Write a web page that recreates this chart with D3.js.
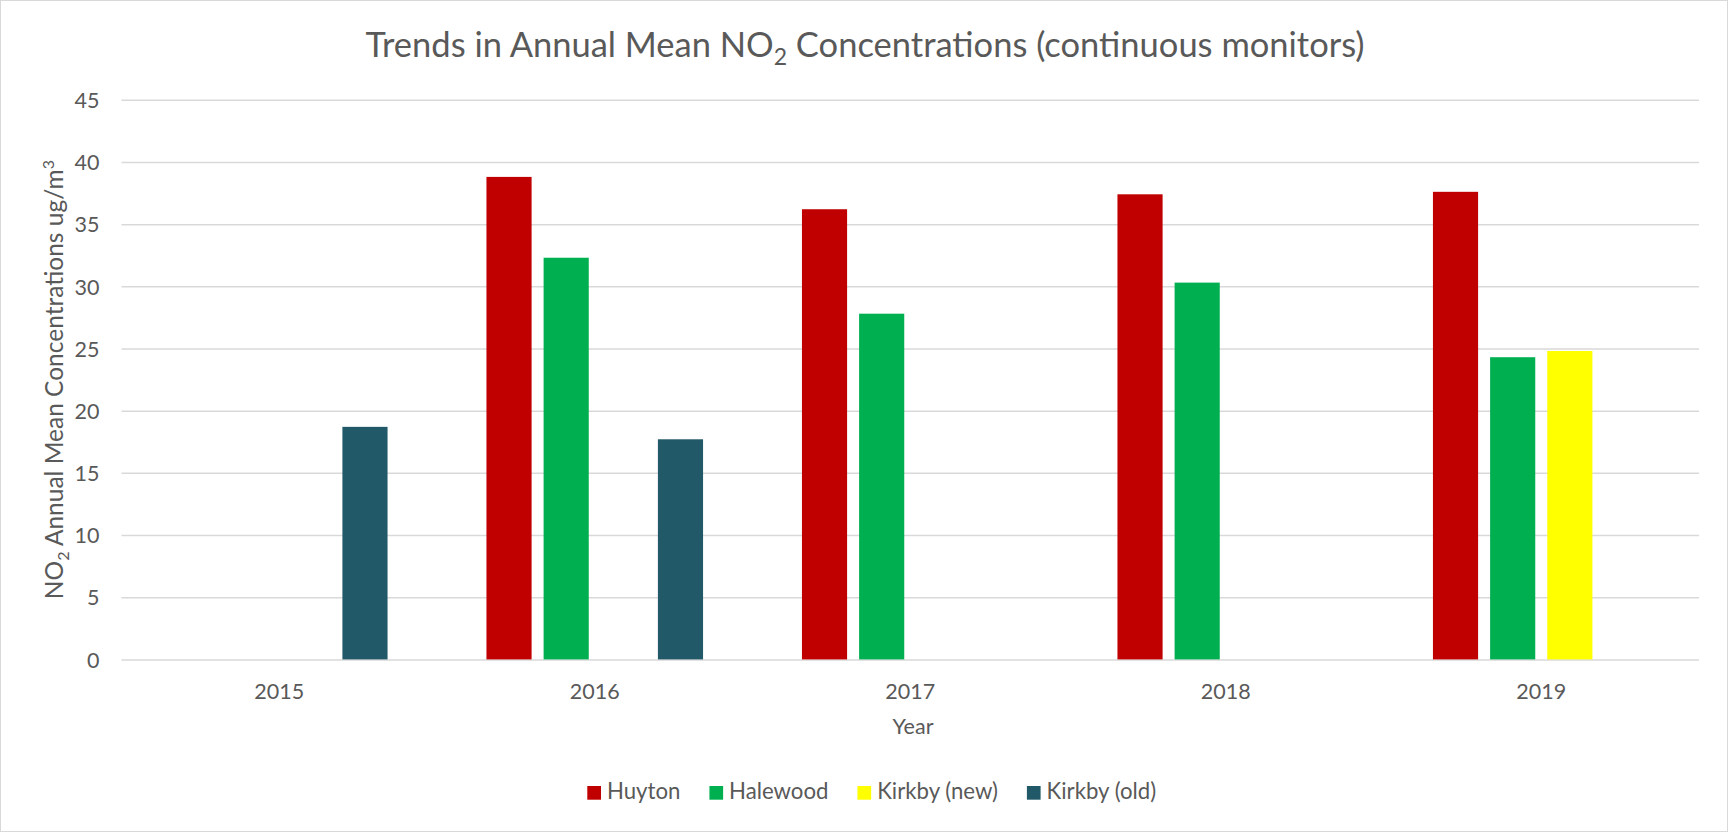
<!DOCTYPE html>
<html>
<head>
<meta charset="utf-8">
<script src="https://cdn.jsdelivr.net/npm/d3@7"></script>
<style>
  html, body { margin: 0; padding: 0; background: #ffffff; }
  svg { display: block; }
  text { font-family: Lato, "Open Sans", sans-serif; fill: #595959; }
</style>
</head>
<body>
<svg id="chart" width="1728" height="832"></svg>
<script>
// Annual mean NO2 (ug/m3) at the continuous monitoring sites
const years = ["2015", "2016", "2017", "2018", "2019"];
const seriesNames = ["Huyton", "Halewood", "Kirkby (new)", "Kirkby (old)"];
const seriesColors = ["#C00000", "#00B050", "#FFFF00", "#215968"];
const huyton    = [null, 38.8, 36.2, 37.4, 37.6];
const halewood  = [null, 32.3, 27.8, 30.3, 24.3];
const kirkbyNew = [null, null, null, null, 24.8];
const kirkbyOld = [18.7, 17.7, null, null, null];
const yTicks = [0, 5, 10, 15, 20, 25, 30, 35, 40, 45];

const seriesValues = [huyton, halewood, kirkbyNew, kirkbyOld];

const W = 1728, H = 832;
const plot = { left: 121.5, right: 1699, top: 99.8, bottom: 659.4 };

const svg = d3.select("#chart");

// outer chart frame
svg.append("rect")
  .attr("x", 0.5).attr("y", 0.5)
  .attr("width", W - 1).attr("height", H - 1)
  .attr("fill", "#ffffff").attr("stroke", "#d9d9d9").attr("stroke-width", 1);

const x0 = d3.scaleBand().domain(years).range([plot.left, plot.right]).padding(0);
// bars sit in the middle 216.6/315.5 of each category band
const groupFrac = 216.6 / 315.5;
const x1 = d3.scaleBand().domain(seriesNames)
  .range([x0.bandwidth() * (1 - groupFrac) / 2, x0.bandwidth() * (1 + groupFrac) / 2])
  .paddingInner(0.21).paddingOuter(0);
const y = d3.scaleLinear().domain([0, 45]).range([plot.bottom, plot.top]);

// horizontal gridlines + tick labels
const yAxis = d3.axisLeft(y).tickValues(yTicks)
  .tickSize(-(plot.right - plot.left)).tickPadding(22).tickFormat(d3.format("d"));
const gy = svg.append("g").attr("transform", `translate(${plot.left},0)`).call(yAxis);
gy.select(".domain").remove();
gy.selectAll(".tick line").attr("stroke", "#d9d9d9").attr("stroke-width", 1.5);
gy.selectAll(".tick text").attr("font-size", 21.5).attr("fill", "#595959")
  .attr("font-family", "Lato, sans-serif").attr("dy", "0.36em");

// x-axis category labels
const xAxis = d3.axisBottom(x0).tickSize(0).tickPadding(24);
const gx = svg.append("g").attr("transform", `translate(0,${plot.bottom})`).call(xAxis);
gx.select(".domain").remove();
gx.selectAll(".tick text").attr("font-size", 21.5).attr("fill", "#595959")
  .attr("font-family", "Lato, sans-serif").attr("dy", "0.71em");

// bars
const barData = [];
years.forEach((yr, i) => {
  seriesNames.forEach((s, j) => {
    const v = seriesValues[j][i];
    if (v != null) barData.push({ year: yr, series: s, value: v, color: seriesColors[j] });
  });
});
svg.append("g").selectAll("rect").data(barData).join("rect")
  .attr("x", d => x0(d.year) + x1(d.series))
  .attr("width", x1.bandwidth())
  .attr("y", d => y(d.value))
  .attr("height", d => y(0) - y(d.value))
  .attr("fill", d => d.color);

// chart title
const title = svg.append("text")
  .attr("x", 865).attr("y", 57)
  .attr("text-anchor", "middle").attr("font-size", 34.5).attr("fill", "#595959");
title.append("tspan").text("Trends in Annual Mean NO");
title.append("tspan").text("2").attr("font-size", 23).attr("dy", 8);
title.append("tspan").text(" Concentrations (continuous monitors)").attr("dy", -8);

// y-axis title
const yTitle = svg.append("text")
  .attr("transform", `translate(63,${(plot.top + plot.bottom) / 2}) rotate(-90)`)
  .attr("text-anchor", "middle").attr("font-size", 24.5);
yTitle.append("tspan").text("NO");
yTitle.append("tspan").text("2").attr("font-size", 16).attr("dy", 6);
yTitle.append("tspan").text(" Annual Mean Concentrations ug/m").attr("dy", -6);
yTitle.append("tspan").text("3").attr("font-size", 16).attr("dy", -9);

// x-axis title
svg.append("text")
  .attr("x", 913).attr("y", 734)
  .attr("text-anchor", "middle").attr("font-size", 21.5).text("Year");

// legend
const legend = svg.append("g");
const sw = 13.7, swGap = 6, itemGap = 29;
let cx = 0;
seriesNames.forEach((s, j) => {
  const g = legend.append("g");
  g.append("rect").attr("x", 0).attr("y", -13.3).attr("width", sw).attr("height", sw)
    .attr("fill", seriesColors[j]);
  const t = g.append("text").attr("x", sw + swGap).attr("y", 0).attr("font-size", 22.2).text(s);
  const w = sw + swGap + t.node().getComputedTextLength();
  g.attr("transform", `translate(${cx},0)`);
  cx += w + itemGap;
});
const legendWidth = cx - itemGap;
legend.attr("transform", `translate(${587.3},799.3)`);
</script>
</body>
</html>
